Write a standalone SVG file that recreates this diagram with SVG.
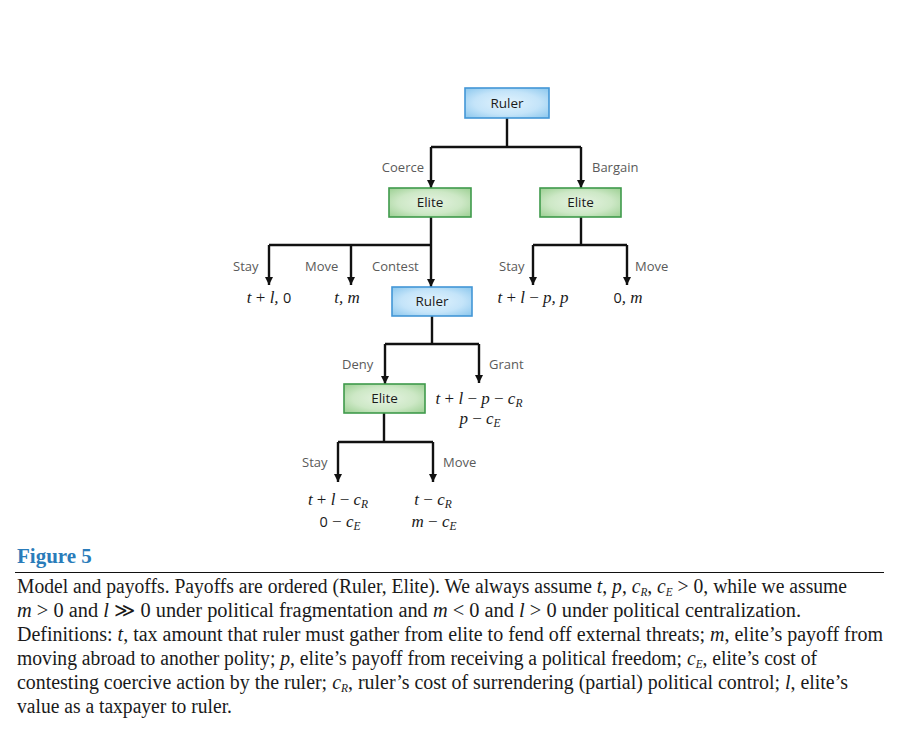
<svg xmlns="http://www.w3.org/2000/svg" width="900" height="749" viewBox="0 0 900 749">
<defs>
<radialGradient id="gBlue" cx="50%" cy="50%" r="65%">
<stop offset="0" stop-color="#e2f3fd"/>
<stop offset="0.6" stop-color="#c4e4f9"/>
<stop offset="1" stop-color="#93cbef"/>
</radialGradient>
<radialGradient id="gGreen" cx="50%" cy="50%" r="65%">
<stop offset="0" stop-color="#e6f3e2"/>
<stop offset="0.6" stop-color="#cde8c6"/>
<stop offset="1" stop-color="#a3d39a"/>
</radialGradient>
<marker id="arr" viewBox="0 0 10 10" refX="10" refY="5" markerUnits="userSpaceOnUse" markerWidth="8" markerHeight="9" orient="auto">
<path d="M0,0 L10,5 L0,10 z" fill="#111"/>
</marker>
<style>
.blue{fill:url(#gBlue);stroke:#4396d6;stroke-width:1.6}
.green{fill:url(#gGreen);stroke:#3f9a4b;stroke-width:1.6}
.nt{font-family:"Open Sans","Liberation Sans",sans-serif;font-size:13.5px;fill:#1a1a1a;text-anchor:middle}
.lb{font-family:"Open Sans","Liberation Sans",sans-serif;font-size:13px;fill:#5a5a5a}
.ln{fill:none;stroke:#111;stroke-width:2.4}
.ar{fill:none;stroke:#111;stroke-width:2.4;marker-end:url(#arr)}
.pf{font-family:"Liberation Serif",serif;font-style:italic;font-size:17px;fill:#1a1a1a;text-anchor:middle}
.d{font-family:"Open Sans","Liberation Sans",sans-serif;font-style:normal;font-size:14.5px}
.op{font-style:normal}
.sub{font-size:11.5px}
.cap{font-family:"Liberation Serif",serif;font-size:20px;fill:#1a1a1a}
.i{font-style:italic}
.fig{font-family:"Liberation Serif",serif;font-size:21px;fill:#2a7cba;font-weight:bold}
</style>
</defs>

<g id="connectors">
<path class="ln" d="M507,118 V147 M431,147 H581"/>
<path class="ar" d="M431,147 V188"/>
<path class="ar" d="M581,147 V188"/>
<path class="ln" d="M431,217 V245 M269,245 H431"/>
<path class="ar" d="M269,245 V285"/>
<path class="ar" d="M351,245 V285"/>
<path class="ar" d="M431,245 V287"/>
<path class="ln" d="M581,217 V245 M533,245 H627"/>
<path class="ar" d="M533,245 V285"/>
<path class="ar" d="M627,245 V285"/>
<path class="ln" d="M432,316 V344 M385,344 H479"/>
<path class="ar" d="M385,344 V384"/>
<path class="ar" d="M479,344 V383"/>
<path class="ln" d="M384,413 V442 M338,442 H433"/>
<path class="ar" d="M338,442 V482"/>
<path class="ar" d="M433,442 V482"/>
</g>

<g id="ruler1">
<rect class="blue" x="465" y="88" width="84" height="30"/>
<text class="nt" x="507" y="108">Ruler</text>
</g>
<g id="elite1">
<rect class="green" x="389" y="188" width="82" height="29"/>
<text class="nt" x="430" y="207">Elite</text>
</g>
<g id="elite2">
<rect class="green" x="540" y="188" width="81" height="29"/>
<text class="nt" x="580.5" y="207">Elite</text>
</g>
<g id="ruler2">
<rect class="blue" x="392" y="287" width="80" height="29"/>
<text class="nt" x="432" y="306">Ruler</text>
</g>
<g id="elite3">
<rect class="green" x="344" y="384" width="81" height="29"/>
<text class="nt" x="384.5" y="403">Elite</text>
</g>

<g id="labels">
<text class="lb" x="424" y="172" text-anchor="end">Coerce</text>
<text class="lb" x="592" y="172">Bargain</text>
<text class="lb" x="233" y="271">Stay</text>
<text class="lb" x="305" y="271">Move</text>
<text class="lb" x="372" y="271">Contest</text>
<text class="lb" x="499" y="271">Stay</text>
<text class="lb" x="635" y="271">Move</text>
<text class="lb" x="342" y="369">Deny</text>
<text class="lb" x="489" y="369">Grant</text>
<text class="lb" x="302" y="467">Stay</text>
<text class="lb" x="443" y="467">Move</text>
</g>

<g id="payoffs">
<text class="pf" x="269" y="303">t <tspan class="op">+</tspan> l, <tspan class="d">0</tspan></text>
<text class="pf" x="347" y="303">t, m</text>
<text class="pf" x="533" y="303">t <tspan class="op">+</tspan> l <tspan class="op">−</tspan> p, p</text>
<text class="pf" x="628" y="303"><tspan class="d">0</tspan>, m</text>
<text class="pf" x="479" y="404">t <tspan class="op">+</tspan> l <tspan class="op">−</tspan> p <tspan class="op">−</tspan> c<tspan class="sub" dy="3">R</tspan></text>
<text class="pf" x="480" y="424">p <tspan class="op">−</tspan> c<tspan class="sub" dy="3">E</tspan></text>
<text class="pf" x="338" y="505">t <tspan class="op">+</tspan> l <tspan class="op">−</tspan> c<tspan class="sub" dy="3">R</tspan></text>
<text class="pf" x="340" y="527"><tspan class="d">0</tspan> <tspan class="op">−</tspan> c<tspan class="sub" dy="3">E</tspan></text>
<text class="pf" x="433" y="505">t <tspan class="op">−</tspan> c<tspan class="sub" dy="3">R</tspan></text>
<text class="pf" x="434" y="527">m <tspan class="op">−</tspan> c<tspan class="sub" dy="3">E</tspan></text>
</g>

<g id="caption">
<text class="fig" x="17" y="563">Figure 5</text>
<line x1="15" y1="572.5" x2="884" y2="572.5" stroke="#111" stroke-width="1.2"/>
<text class="cap" x="17" y="593" textLength="830" lengthAdjust="spacingAndGlyphs">Model and payoffs. Payoffs are ordered (Ruler, Elite). We always assume <tspan class="i">t</tspan>, <tspan class="i">p</tspan>, <tspan class="i">c</tspan><tspan class="i sub" dy="3">R</tspan><tspan dy="-3">, </tspan><tspan class="i">c</tspan><tspan class="i sub" dy="3">E</tspan><tspan dy="-3"> &gt; 0, while we assume</tspan></text>
<text class="cap" x="17" y="617" textLength="784" lengthAdjust="spacingAndGlyphs"><tspan class="i">m</tspan> &gt; 0 and <tspan class="i">l</tspan> ≫ 0 under political fragmentation and <tspan class="i">m</tspan> &lt; 0 and <tspan class="i">l</tspan> &gt; 0 under political centralization.</text>
<text class="cap" x="17" y="641" textLength="866" lengthAdjust="spacingAndGlyphs">Definitions: <tspan class="i">t</tspan>, tax amount that ruler must gather from elite to fend off external threats; <tspan class="i">m</tspan>,  elite’s payoff from</text>
<text class="cap" x="17" y="665" textLength="800" lengthAdjust="spacingAndGlyphs">moving abroad to another polity; <tspan class="i">p</tspan>, elite’s payoff from receiving a political freedom; <tspan class="i">c</tspan><tspan class="i sub" dy="3">E</tspan><tspan dy="-3">, elite’s cost of</tspan></text>
<text class="cap" x="17" y="689" textLength="831" lengthAdjust="spacingAndGlyphs">contesting coercive action by the ruler; <tspan class="i">c</tspan><tspan class="i sub" dy="3">R</tspan><tspan dy="-3">, ruler’s cost of surrendering (partial) political control; </tspan><tspan class="i">l</tspan>, elite’s</text>
<text class="cap" x="17" y="713" textLength="215" lengthAdjust="spacingAndGlyphs">value as a taxpayer to ruler.</text>
</g>
</svg>
